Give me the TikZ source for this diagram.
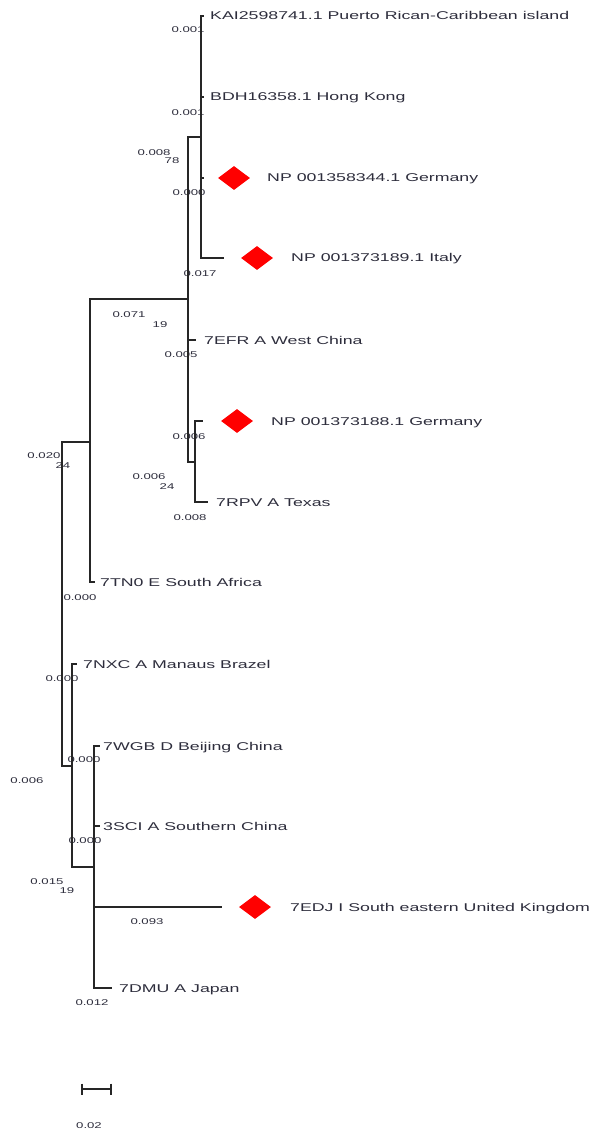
\documentclass[tikz,border=0pt]{standalone}
\usepackage{fontspec}
\usetikzlibrary{shapes.geometric}
\newfontfamily\labfont[FakeStretch=1.57]{Liberation Sans}
\definecolor{txt}{RGB}{45,45,60}
\begin{document}
\begin{tikzpicture}[x=1pt,y=-1pt,
  br/.style={line width=1.4pt, draw=black!85},
  leaf/.style={anchor=base west, inner sep=0pt, font=\labfont\fontsize{11.3}{13}\selectfont, text=txt},
  blen/.style={anchor=base, inner sep=0pt, font=\labfont\fontsize{8.4}{10}\selectfont, text=txt},
  redmark/.style={diamond, fill=red, inner sep=0pt, minimum width=32pt, minimum height=24pt, aspect=1.33}
]
\useasboundingbox (0,0) rectangle (590,1131);

% tree coordinates
\coordinate (tKAI) at (204,16);
\coordinate (tBDH) at (204,97);
\coordinate (tGER1) at (204,178);
\coordinate (tITA) at (224,258);
\coordinate (nA) at (201,137);
\coordinate (nB) at (188,299);
\coordinate (tEFR) at (196,340);
\coordinate (nC) at (195,462);
\coordinate (tGER2) at (203,421);
\coordinate (tRPV) at (208,502);
\coordinate (nD) at (90,442);
\coordinate (tTN0) at (95,582);
\coordinate (root) at (62,604);
\coordinate (nF) at (72,766);
\coordinate (tNXC) at (77,664);
\coordinate (nG) at (94,867);
\coordinate (tWGB) at (100,746);
\coordinate (tSCI) at (100,826);
\coordinate (tEDJ) at (222,907);
\coordinate (tDMU) at (112,988);

% leaf labels and markers
\node[leaf] (lKAI) at (210,20) {KAI2598741.1 Puerto Rican-Caribbean island};
\node[leaf] (lBDH) at (210,101) {BDH16358.1 Hong Kong};
\node[redmark] (dGER1) at (234,178) {};
\node[leaf] (lGER1) at (267,182) {NP 001358344.1 Germany};
\node[redmark] (dITA) at (257,258) {};
\node[leaf] (lITA) at (291,262) {NP 001373189.1 Italy};
\node[leaf] (lEFR) at (204,344) {7EFR A West China};
\node[redmark] (dGER2) at (237,421) {};
\node[leaf] (lGER2) at (271,425) {NP 001373188.1 Germany};
\node[leaf] (lRPV) at (216,506) {7RPV A Texas};
\node[leaf] (lTN0) at (100,586) {7TN0 E South Africa};
\node[leaf] (lNXC) at (83,668) {7NXC A Manaus Brazel};
\node[leaf] (lWGB) at (103,750) {7WGB D Beijing China};
\node[leaf] (lSCI) at (103,830) {3SCI A Southern China};
\node[redmark] (dEDJ) at (255,907) {};
\node[leaf] (lEDJ) at (290,911) {7EDJ I South eastern United Kingdom};
\node[leaf] (lDMU) at (119,992) {7DMU A Japan};

% branch lengths and support values
\node[blen] (b1) at (188,33) {0.001};
\node[blen] (b2) at (188,116) {0.001};
\node[blen] (b3) at (154,156) {0.008};
\node[blen] (s3) at (172,164) {78};
\node[blen] (b4) at (189,196) {0.000};
\node[blen] (b5) at (200,277) {0.017};
\node[blen] (b6) at (129,317) {0.071};
\node[blen] (s6) at (160,327) {19};
\node[blen] (b7) at (181,357) {0.005};
\node[blen] (b8) at (189,439) {0.006};
\node[blen] (b9) at (44,458) {0.020};
\node[blen] (s9) at (63,468) {24};
\node[blen] (b10) at (149,479) {0.006};
\node[blen] (s10) at (167,489) {24};
\node[blen] (b11) at (190,520) {0.008};
\node[blen] (b12) at (80,600) {0.000};
\node[blen] (b13) at (62,681) {0.000};
\node[blen] (b14) at (84,762) {0.000};
\node[blen] (b15) at (27,783) {0.006};
\node[blen] (b16) at (85,843) {0.000};
\node[blen] (b17) at (47,884) {0.015};
\node[blen] (s17) at (67,893) {19};
\node[blen] (b18) at (147,924) {0.093};
\node[blen] (b19) at (92,1005) {0.012};
\node[blen] (bsc) at (89,1128) {0.02};

% branches
\draw[br] (nA) |- (tKAI);
\draw[br] (nA) |- (tBDH);
\draw[br] (nA) |- (tGER1);
\draw[br] (nA) |- (tITA);
\draw[br] (nB) |- (nA);
\draw[br] (nB) |- (tEFR);
\draw[br] (nB) |- (nC);
\draw[br] (nC) |- (tGER2);
\draw[br] (nC) |- (tRPV);
\draw[br] (nD) |- (nB);
\draw[br] (nD) |- (tTN0);
\draw[br] (root) |- (nD);
\draw[br] (root) |- (nF);
\draw[br] (nF) |- (tNXC);
\draw[br] (nF) |- (nG);
\draw[br] (nG) |- (tWGB);
\draw[br] (nG) |- (tSCI);
\draw[br] (nG) |- (tEDJ);
\draw[br] (nG) |- (tDMU);

% scale bar
\coordinate (sb1) at (82,1089);
\coordinate (sb2) at (111,1089);
\draw[br] (sb1) -- (sb2);
\draw[br] ([yshift=5.5pt]sb1) -- ([yshift=-5.5pt]sb1);
\draw[br] ([yshift=5.5pt]sb2) -- ([yshift=-5.5pt]sb2);
\end{tikzpicture}
\end{document}
